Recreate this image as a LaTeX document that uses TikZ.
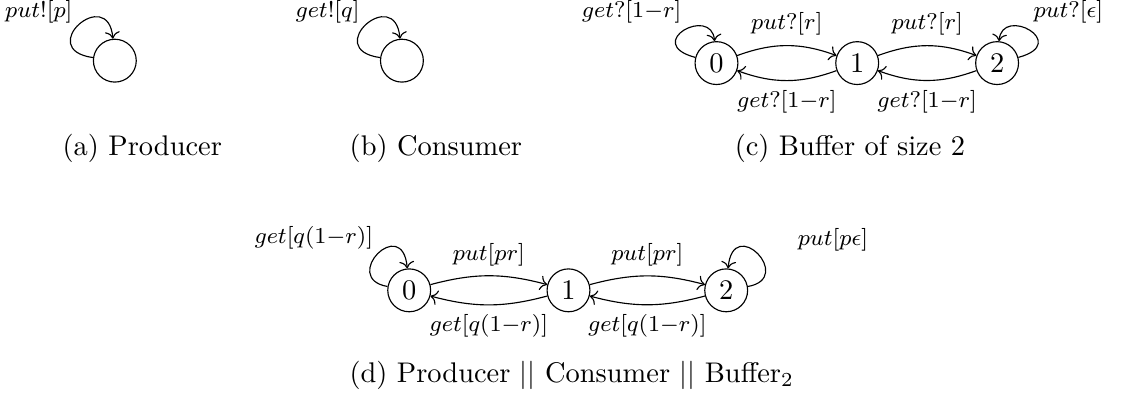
\documentclass[tikz,border=0pt]{standalone}
\usepackage{amsmath}
\usepackage{amssymb}
\usetikzlibrary{arrows.meta, positioning, calc}

\begin{document}
\begin{tikzpicture}[
    st/.style={draw, circle, minimum size=0.53cm, inner sep=0pt},
    lbl/.style={font=\footnotesize},
    arrow/.style={-{To}},
    subcap/.style={font=\normalsize},
]
    \useasboundingbox (0,0) rectangle (14.06,-5.01);

    % Producer
    \node[st] (prod) at (1.42,-0.75) {};
    \draw[arrow] (prod.172) .. controls +(172:0.74) and +(95:0.68) .. (prod.95);
    \node[lbl] (lprod) at (0.48,-0.15) {$put![p]$};
    \node[subcap] (capa) at (1.76,-1.83) {(a) Producer};

    % Consumer
    \node[st] (cons) at (4.97,-0.75) {};
    \draw[arrow] (cons.172) .. controls +(172:0.74) and +(95:0.68) .. (cons.95);
    \node[lbl] (lcons) at (4.05,-0.15) {$get![q]$};
    \node[subcap] (capb) at (5.39,-1.83) {(b) Consumer};

    % Buffer of size 2
    \node[st] (b0) at (8.86,-0.78) {0};
    \node[st] (b1) at (10.60,-0.78) {1};
    \node[st] (b2) at (12.33,-0.78) {2};
    \draw[arrow] (b0.165) .. controls +(165:0.68) and +(95:0.45) .. (b0.95);
    \draw[arrow] (b2.15) .. controls +(15:0.68) and +(85:0.45) .. (b2.85);
    \node[lbl] (lb0) at (7.81,-0.15) {$get?[1{-}r]$};
    \node[lbl] (lb2) at (13.21,-0.15) {$put?[\epsilon]$};
    \draw[arrow] (b0) to[bend left=20] node[lbl, above] {$put?[r]$} (b1);
    \draw[arrow] (b1) to[bend left=20] node[lbl, above] {$put?[r]$} (b2);
    \draw[arrow] (b1) to[bend left=20] node[lbl, below] {$get?[1{-}r]$} (b0);
    \draw[arrow] (b2) to[bend left=20] node[lbl, below] {$get?[1{-}r]$} (b1);
    \node[subcap] (capc) at (10.51,-1.83) {(c) Buffer of size 2};

    % Composition
    \node[st] (s0) at (5.06,-3.59) {0};
    \node[st] (s1) at (7.03,-3.59) {1};
    \node[st] (s2) at (8.98,-3.59) {2};
    \draw[arrow] (s0.170) .. controls +(170:0.6) and +(95:0.68) .. (s0.95);
    \draw[arrow] (s2.10) .. controls +(10:0.6) and +(85:0.68) .. (s2.85);
    \node[lbl] (ls0) at (3.88,-2.94) {$get[q(1{-}r)]$};
    \node[lbl] (ls2) at (10.30,-2.97) {$put[p\epsilon]$};
    \draw[arrow] (s0) to[bend left=15] node[lbl, above] {$put[pr]$} (s1);
    \draw[arrow] (s1) to[bend left=15] node[lbl, above] {$put[pr]$} (s2);
    \draw[arrow] (s1) to[bend left=15] node[lbl, below] {$get[q(1{-}r)]$} (s0);
    \draw[arrow] (s2) to[bend left=15] node[lbl, below] {$get[q(1{-}r)]$} (s1);
    \node[subcap] (capd) at (7.07,-4.64) {(d) Producer $||$ Consumer $||$ Buffer$_2$};
\end{tikzpicture}
\end{document}
